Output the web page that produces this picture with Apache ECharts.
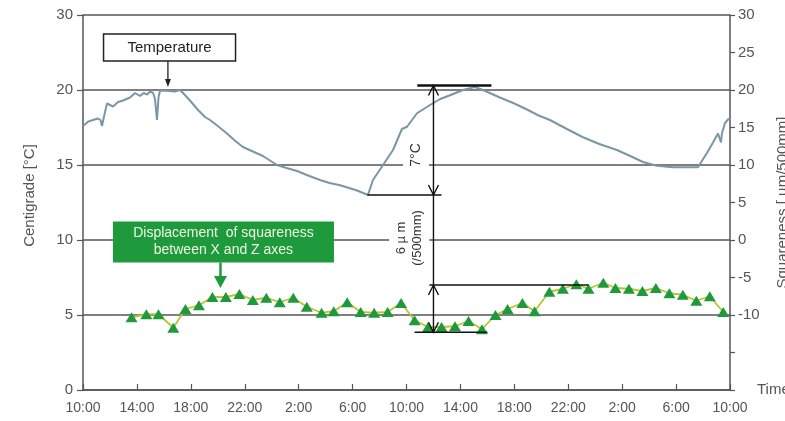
<!DOCTYPE html>
<html><head><meta charset="utf-8">
<script src="https://cdn.jsdelivr.net/npm/echarts@6/dist/echarts.min.js"></script>
<style>html,body{margin:0;padding:0;background:#fff}#c{width:785px;height:421px}</style>
</head><body><div id="c"></div>
<script>
// Hours since 10:00 on day 1
const timeLabels = ['10:00','14:00','18:00','22:00','2:00','6:00','10:00','14:00','18:00','22:00','2:00','6:00','10:00'];
const leftLabels = ['0','5','10','15','20','30'];

const tempTime = [0,0.4,0.74,1.1,1.3,1.41,1.55,1.78,2.23,2.6,2.97,3.49,3.86,4.23,4.5,4.75,4.97,5.2,5.34,5.49,5.6,5.71,6.23,6.8,7.2,7.42,7.94,8.5,9.05,9.42,10.0,10.68,11.3,11.87,12.6,13.35,14.39,15.1,15.88,16.7,17.58,18.3,19.07,19.8,20.33,21.14,21.51,22.26,23.0,23.66,24.04,24.78,25.74,26.5,27.23,28.19,29.08,29.67,30.93,32.0,32.94,33.8,34.64,35.9,37.09,38.3,39.61,40.6,41.54,42.58,43.77,45.18,45.62,46.29,46.74,47.11,47.33,47.4,47.63,47.92];
const tempC = [17.6,17.9,18.0,18.1,18.0,17.6,18.2,19.1,18.9,19.2,19.3,19.5,19.8,19.6,19.8,19.7,19.9,19.8,19.4,18.0,19.5,19.95,19.95,19.9,20.0,19.8,19.3,18.7,18.2,18.0,17.6,17.1,16.6,16.2,15.9,15.6,15.0,14.8,14.6,14.3,14.0,13.8,13.65,13.45,13.3,13.0,14.0,15.0,16.0,17.4,17.55,18.45,19.0,19.4,19.65,20.0,20.2,20.0,19.5,19.1,18.7,18.3,18.0,17.4,16.85,16.4,16.0,15.6,15.2,14.95,14.85,14.85,14.85,15.8,16.5,17.1,16.5,17.1,17.8,18.1];

const sqTime = [3.6,4.7,5.6,6.7,7.6,8.6,9.6,10.6,11.6,12.6,13.6,14.6,15.6,16.6,17.7,18.6,19.6,20.6,21.6,22.6,23.6,24.6,25.6,26.6,27.6,28.6,29.6,30.6,31.5,32.6,33.5,34.6,35.6,36.6,37.5,38.6,39.5,40.5,41.5,42.5,43.5,44.5,45.5,46.5,47.5];
const sqVal = [-10.3,-9.9,-9.9,-11.7,-9.2,-8.7,-7.6,-7.6,-7.2,-8.0,-7.7,-8.3,-7.7,-8.9,-9.7,-9.5,-8.3,-9.6,-9.7,-9.6,-8.4,-10.7,-11.6,-11.6,-11.5,-10.8,-11.9,-10.0,-9.2,-8.4,-9.5,-6.9,-6.5,-5.9,-6.5,-5.7,-6.4,-6.5,-6.8,-6.4,-7.1,-7.3,-8.1,-7.5,-9.6];

const FONT = "'Liberation Sans', Arial, Helvetica, sans-serif";
const GRID = '#555';
const chart = echarts.init(document.getElementById('c'));
const option = {
  animation: false,
  backgroundColor: '#fff',
  textStyle: {fontFamily: FONT},
  grid: {left: 83, right: 55, top: 15, bottom: 31, containLabel: false, outerBoundsMode: 'none'},
  xAxis: {
    type: 'value', min: 0, max: 48, interval: 4,
    name: 'Time', nameLocation: 'end', nameGap: 27,
    nameTextStyle: {color: '#555', fontSize: 15, align: 'left', verticalAlign: 'middle', fontFamily: FONT},
    axisLine: {show: true, lineStyle: {color: GRID, width: 1.5}},
    axisTick: {show: true, inside: true, length: 6, lineStyle: {color: GRID, width: 1.2}},
    axisLabel: {color: '#555', fontSize: 14, margin: 11, fontFamily: FONT,
      formatter: v => timeLabels[Math.round(v / 4)]},
    splitLine: {show: false}
  },
  yAxis: [
    {
      type: 'value', position: 'left', min: 0, max: 25, interval: 5,
      name: 'Centigrade [°C]', nameLocation: 'middle', nameGap: 46, nameRotate: 90,
      nameTextStyle: {color: '#555', fontSize: 15, fontFamily: FONT, padding: [0, 0, 0, 14]},
      axisLine: {show: true, lineStyle: {color: GRID, width: 1.5}},
      axisTick: {show: true, length: 6, lineStyle: {color: GRID, width: 1.2}},
      axisLabel: {color: '#555', fontSize: 15, margin: 10, fontFamily: FONT,
        formatter: v => leftLabels[Math.round(v / 5)]},
      splitLine: {show: true, lineStyle: {color: GRID, width: 1.5}}
    },
    {
      type: 'value', position: 'right', min: -20, max: 30, interval: 5,
      name: 'Squareness [ µm/500mm]', nameLocation: 'middle', nameGap: 45, nameRotate: 90,
      nameTextStyle: {color: '#555', fontSize: 15, fontFamily: FONT},
      axisLine: {show: true, lineStyle: {color: GRID, width: 1.5}},
      axisTick: {show: true, length: 5, lineStyle: {color: GRID, width: 1.2}},
      axisLabel: {color: '#555', fontSize: 15, margin: 8, fontFamily: FONT,
        formatter: v => (v >= -10 ? String(v) : '')},
      splitLine: {show: false}
    }
  ],
  series: [
    {
      name: 'Temperature', type: 'line', yAxisIndex: 0, showSymbol: false, symbol: 'none',
      data: tempTime.map((t, i) => [t, tempC[i]]),
      lineStyle: {color: '#7b96a4', width: 2}, z: 3
    },
    {
      name: 'Squareness', type: 'line', yAxisIndex: 1, symbol: 'triangle', symbolSize: [12, 10],
      data: sqTime.map((t, i) => [t, sqVal[i]]),
      itemStyle: {color: '#1e9a3c'},
      lineStyle: {color: '#b7c530', width: 1.8}, z: 4
    }
  ]
};
chart.setOption(option);

const P = (x, y) => chart.convertToPixel({seriesIndex: 0}, [x, y]);
const Q = (x, y) => chart.convertToPixel({seriesIndex: 1}, [x, y]);
const g = [];
function line(a, b, w, c) {
  g.push({type: 'line', shape: {x1: a[0], y1: a[1], x2: b[0], y2: b[1]}, style: {stroke: c || '#111', lineWidth: w || 1.3}, z: 10});
}
function chevron(p, dir, c) { // dir -1 up, +1 down
  g.push({type: 'polyline', shape: {points: [[p[0] - 5, p[1] - dir * 10], [p[0], p[1]], [p[0] + 5, p[1] - dir * 10]]},
    style: {stroke: c || '#111', lineWidth: 1.4, fill: null}, z: 10});
}
function head(p, w, h, c) { // filled, pointing down
  g.push({type: 'polygon', shape: {points: [[p[0] - w / 2, p[1] - h], [p[0] + w / 2, p[1] - h], [p[0], p[1]]]},
    style: {fill: c}, z: 10});
}

// Temperature label box + arrow
const tb = P(6.42, 22.83);
g.push({type: 'rect', shape: {x: tb[0] - 66, y: tb[1] - 13.5, width: 132, height: 27},
  style: {fill: '#fff', stroke: '#222', lineWidth: 1.5}, z: 10});
g.push({type: 'text', x: tb[0], y: tb[1], style: {text: 'Temperature', fill: '#222', font: '15px ' + FONT, align: 'center', verticalAlign: 'middle'}, z: 11});
const ta = P(6.3, 20.2);
line([ta[0], tb[1] + 13.5], [ta[0], ta[1] - 6], 1.3, '#222');
head(ta, 6, 8, '#222');

// Green label box + arrow
const gb = Q(10.42, -0.27);
g.push({type: 'rect', shape: {x: gb[0] - 110.5, y: gb[1] - 20.5, width: 221, height: 41},
  style: {fill: '#1e9a3c'}, z: 10});
g.push({type: 'text', x: gb[0], y: gb[1], style: {text: 'Displacement  of squareness\nbetween X and Z axes', fill: '#eef7e4', font: '14px ' + FONT, lineHeight: 17, align: 'center', verticalAlign: 'middle'}, z: 11});
const ga = Q(10.2, -6.4);
line([ga[0], gb[1] + 20.5], [ga[0], ga[1] - 11], 2.5, '#1e9a3c');
head(ga, 13, 12, '#1e9a3c');

// 7°C dimension
line(P(24.8, 20.3), P(30.3, 20.3), 2.5, '#111');
line(P(21.1, 13.0), P(26.6, 13.0), 1.5, '#111');
line(P(26, 20.3), P(26, 13.0), 1.4, '#111');
chevron(P(26, 20.3), -1);
chevron(P(26, 13.0), 1);
const t7 = P(24.7, 15.67);
g.push({type: 'text', x: t7[0], y: t7[1], rotation: Math.PI / 2,
  style: {text: '7°C', fill: '#333', font: '14px ' + FONT, align: 'center', verticalAlign: 'middle', backgroundColor: '#fff', padding: [6, 3]}, z: 9});

// 6 µm dimension
line(Q(26, 6), Q(26, -12.3), 1.4, '#111');
chevron(Q(26, -6), -1);
chevron(Q(26, -12.3), 1);
line(Q(25.7, -6), Q(37.5, -6), 1.5, '#111');
line(Q(24.6, -12.3), Q(30.0, -12.3), 1.5, '#111');
const t6 = Q(24.2, 0.27);
g.push({type: 'text', x: t6[0], y: t6[1], rotation: Math.PI / 2,
  style: {text: '6 µ m\n(/500mm)', fill: '#333', font: '13px ' + FONT, lineHeight: 16, align: 'center', verticalAlign: 'middle', backgroundColor: '#fff', padding: [4, 3]}, z: 9});

chart.setOption({graphic: {elements: g}});
</script></body></html>
